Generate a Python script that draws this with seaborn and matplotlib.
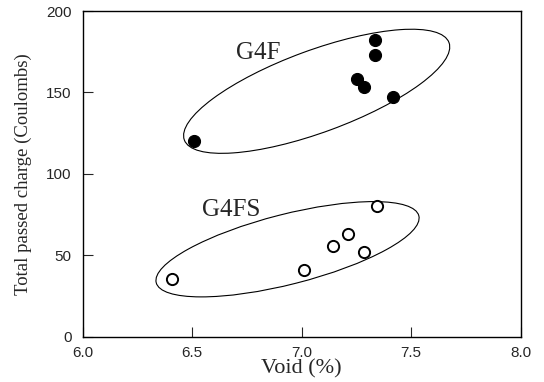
import matplotlib
matplotlib.use("Agg")
import matplotlib.pyplot as plt
import matplotlib.transforms as mtransforms
from matplotlib.patches import Ellipse
import numpy as np
import pandas as pd
import seaborn as sns

# data
g4f_void = [6.51, 7.333, 7.333, 7.253, 7.284, 7.415]
g4f_charge = [120.2, 182.0, 173.0, 158.0, 153.4, 147.4]
g4fs_void = [6.41, 7.012, 7.142, 7.21, 7.284, 7.342]
g4fs_charge = [35.4, 40.8, 55.5, 62.9, 52.2, 80.5]

x_ticks = [6.0, 6.5, 7.0, 7.5, 8.0]
y_ticks = [0, 50, 100, 150, 200]

df_f = pd.DataFrame({"void": g4f_void, "charge": g4f_charge})
df_fs = pd.DataFrame({"void": g4fs_void, "charge": g4fs_charge})

sns.set_style("ticks")
plt.rcParams["font.family"] = ["Liberation Sans", "DejaVu Sans"]
serif = ["Liberation Serif", "DejaVu Serif"]

fig = plt.figure(figsize=(5.44, 3.82), dpi=100)
ax = fig.add_axes([0.152, 0.1186, 0.805, 0.8526])

sns.scatterplot(data=df_f, x="void", y="charge", ax=ax, color="black",
                edgecolor="black", s=75, linewidth=0.8, zorder=3)
sns.scatterplot(data=df_fs, x="void", y="charge", ax=ax, color="white",
                edgecolor="black", s=65, linewidth=1.4, zorder=3)

# group ellipses (sized in inches, anchored in data coords)
for cx, cy, w, h, ang in [(7.0686, 150.7, 2.82, 0.82, 20.2),
                          (6.9355, 53.7, 2.71, 0.70, 14.3)]:
    tr = fig.dpi_scale_trans + mtransforms.ScaledTranslation(cx, cy, ax.transData)
    ax.add_patch(Ellipse((0, 0), w, h, angle=ang, transform=tr,
                         fill=False, edgecolor="black", linewidth=0.8))

ax.text(6.80, 174.3, "G4F", family=serif, fontsize=18,
        ha="center", va="center")
ax.text(6.68, 77.8, "G4FS", family=serif, fontsize=18,
        ha="center", va="center")

ax.set_xlim(6.0, 8.0)
ax.set_ylim(0, 200)
ax.set_xticks(x_ticks)
ax.set_yticks(y_ticks)
ax.set_xticklabels([f"{v:.1f}" for v in x_ticks])
ax.tick_params(direction="in", length=7, width=0.8, labelsize=11,
               top=False, right=False)
ax.tick_params(axis="y", pad=8)
ax.tick_params(axis="x", pad=7)
for sp in ax.spines.values():
    sp.set_linewidth(1.0)
    sp.set_color("black")

ax.set_xlabel("Void (%)", family=serif, fontsize=16, labelpad=-1)
ax.set_ylabel("Total passed charge (Coulombs)", family=serif,
              fontsize=13.5, labelpad=10)

fig.savefig("out.png", dpi=100)
